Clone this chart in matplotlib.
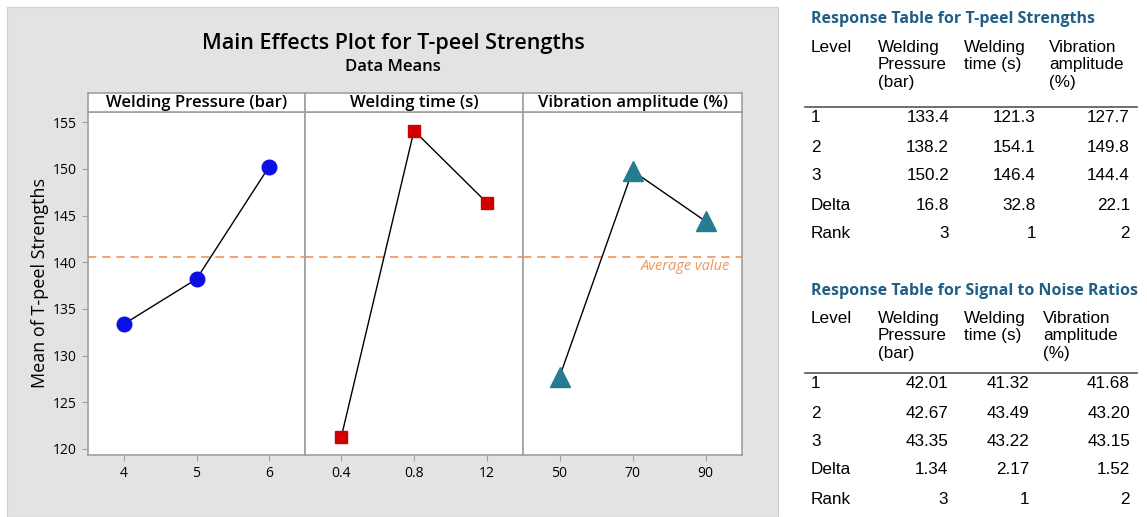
import numpy as np
import matplotlib.pyplot as plt
from matplotlib.patches import Rectangle

# factor names and levels
factors = ['Welding Pressure (bar)', 'Welding time (s)', 'Vibration amplitude (%)']
level_labels = [['4', '5', '6'], ['0.4', '0.8', '12'], ['50', '70', '90']]
mean_pressure = [133.4, 138.2, 150.2]
mean_time = [121.3, 154.1, 146.4]
mean_amplitude = [127.7, 149.8, 144.4]
grand_mean = 140.6

# response tables
row_names = ['1', '2', '3', 'Delta', 'Rank']
col_names = ['Welding\nPressure\n(bar)', 'Welding\ntime (s)', 'Vibration\namplitude\n(%)']
means_table = [['133.4', '121.3', '127.7'],
               ['138.2', '154.1', '149.8'],
               ['150.2', '146.4', '144.4'],
               ['16.8', '32.8', '22.1'],
               ['3', '1', '2']]
sn_table = [['42.01', '41.32', '41.68'],
            ['42.67', '43.49', '43.20'],
            ['43.35', '43.22', '43.15'],
            ['1.34', '2.17', '1.52'],
            ['3', '1', '2']]

W, H = 1147, 517
fig = plt.figure(figsize=(W / 100, H / 100), dpi=100)
fig.patch.set_facecolor('white')

def fx(x):
    return x / W

def fy(y):
    return 1 - y / H

chart_font = 'Open Sans'
table_font = 'Liberation Sans'
spine_col = '#a0a0a0'

# gray chart background
fig.add_artist(Rectangle((fx(7), 0), fx(771), fy(7), transform=fig.transFigure,
                         facecolor='#e3e3e3', edgecolor='#d0d0d0', lw=0.8, zorder=-5))

fig.text(fx(393), fy(43), 'Main Effects Plot for T-peel Strengths', ha='center', va='center',
         fontsize=15.5, family=chart_font, fontweight='semibold')
fig.text(fx(393), fy(67), 'Data Means', ha='center', va='center', fontsize=12,
         family=chart_font, fontweight='semibold')

edges = [88, 305, 523, 742]
top, bottom, strip_top = 112, 455, 93
series = [mean_pressure, mean_time, mean_amplitude]
markers = [('o', '#0c10e6', 10.5), ('s', '#d00000', 8.5), ('^', '#257c92', 14)]

for i in range(3):
    ax = fig.add_axes([fx(edges[i]), fy(bottom), fx(edges[i + 1] - edges[i]), (bottom - top) / H])
    x = np.arange(1, 4)
    m, c, s = markers[i]
    ax.plot(x, series[i], color='black', lw=1.0, zorder=3)
    ax.plot(x, series[i], ls='none', marker=m, color=c, markersize=s, zorder=4)
    ax.axhline(grand_mean, color='#f0955a', ls=(0, (5, 3.5)), lw=1.2, zorder=2)
    ax.set_xlim(0.5, 3.5)
    ax.set_ylim(119.35, 156.1)
    ax.set_xticks(x)
    ax.set_xticklabels(level_labels[i], fontsize=10, family=chart_font, fontweight='medium')
    ax.set_yticks(np.arange(120, 156, 5))
    for sp in ax.spines.values():
        sp.set_color(spine_col)
        sp.set_linewidth(1.2)
    ax.tick_params(axis='both', direction='out', length=4, color=spine_col, pad=4)
    if i == 0:
        for lab in ax.get_yticklabels():
            lab.set_fontsize(10)
            lab.set_family(chart_font)
            lab.set_fontweight('medium')
        ax.set_ylabel('Mean of T-peel Strengths', fontsize=13, family=chart_font, labelpad=3)
    else:
        ax.tick_params(axis='y', left=False, labelleft=False)
    if i == 2:
        ax.text(3.34, grand_mean - 0.3, 'Average value', color='#f0955a', style='italic',
                fontsize=10.5, family=chart_font, ha='right', va='top')

    # strip
    sax = fig.add_axes([fx(edges[i]), fy(top), fx(edges[i + 1] - edges[i]), (top - strip_top) / H])
    sax.set_xticks([])
    sax.set_yticks([])
    for sp in sax.spines.values():
        sp.set_color(spine_col)
        sp.set_linewidth(1.2)
    sax.text(0.5, 0.45, factors[i], ha='center', va='center', fontsize=12,
             family=chart_font, fontweight='semibold', transform=sax.transAxes)


def draw_table(title, y_title, y_head, y_line, y_rows, col_x, right_x, values):
    fig.text(fx(811), fy(y_title), title, ha='left', va='center', fontsize=11.5,
             color='#1f5f86', fontweight='bold', family=chart_font)
    fig.text(fx(811), fy(y_head), 'Level', ha='left', va='top', fontsize=12.3,
             family=table_font, linespacing=1.2)
    for j, name in enumerate(col_names):
        fig.text(fx(col_x[j]), fy(y_head), name, ha='left', va='top', fontsize=12.3,
                 family=table_font, linespacing=1.2)
    fig.add_artist(plt.Line2D([fx(805), fx(1137)], [fy(y_line), fy(y_line)],
                              color='#555555', lw=1.2, transform=fig.transFigure))
    for r, name in enumerate(row_names):
        fig.text(fx(811), fy(y_rows[r]), name, ha='left', va='center', fontsize=12.3,
                 family=table_font)
        for j in range(3):
            fig.text(fx(right_x[j]), fy(y_rows[r]), values[r][j], ha='right', va='center',
                     fontsize=12.3, family=table_font)


draw_table('Response Table for T-peel Strengths', 19, 40, 107,
           [118, 147, 176, 205, 234], [878, 964, 1049], [949, 1036, 1130], means_table)
draw_table('Response Table for Signal to Noise Ratios', 291, 311, 373,
           [384, 413, 442, 470, 499], [878, 964, 1043], [948, 1029, 1130], sn_table)

fig.savefig('out.png', dpi=100)
